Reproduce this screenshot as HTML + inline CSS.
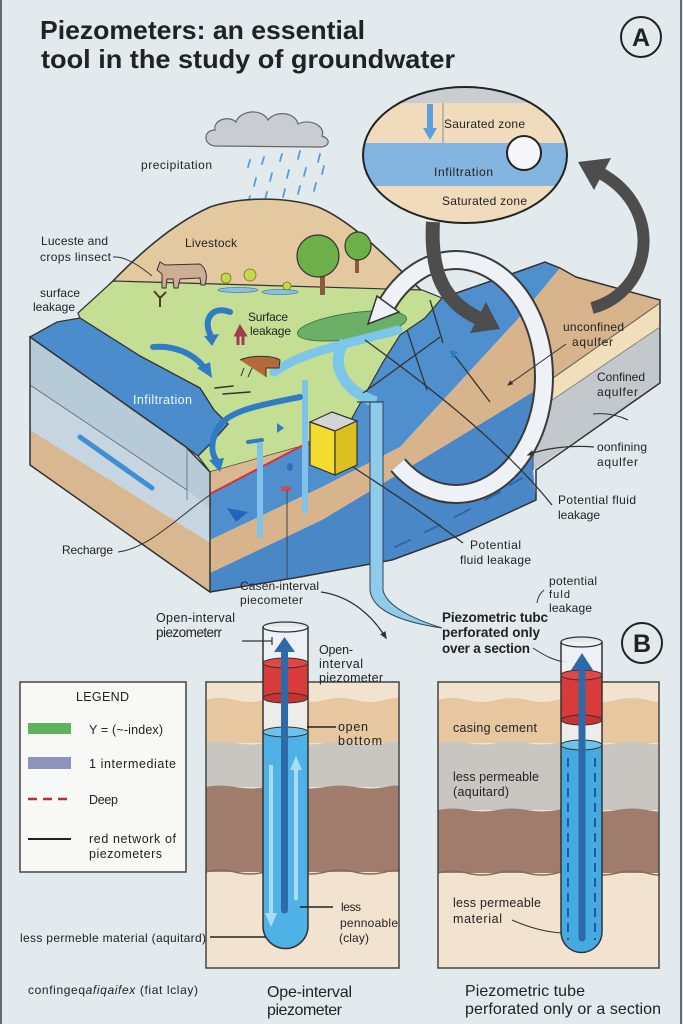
<!DOCTYPE html>
<html><head><meta charset="utf-8">
<style>
html,body{margin:0;padding:0;background:#e2eaed;}
svg{display:block;}
text{font-family:"Liberation Sans",sans-serif;fill:#222;}
</style></head><body>
<svg width="683" height="1024" viewBox="0 0 683 1024" xmlns="http://www.w3.org/2000/svg">
<defs>
<clipPath id="mag"><ellipse cx="465" cy="155" rx="102" ry="68"/></clipPath>
<marker id="ah" viewBox="0 0 10 10" refX="8" refY="5" markerWidth="6" markerHeight="6" orient="auto"><path d="M0,1 L10,5 L0,9 z" fill="#333"/></marker>
<marker id="ahb" viewBox="0 0 10 10" refX="8" refY="5" markerWidth="4" markerHeight="4" orient="auto"><path d="M0,0 L10,5 L0,10 z" fill="#2f7cc4"/></marker>
</defs>
<rect width="683" height="1024" fill="#e2eaed"/>
<line x1="1" y1="0" x2="1" y2="1024" stroke="#6a6a6a" stroke-width="2"/>
<line x1="681" y1="0" x2="681" y2="1024" stroke="#6a6a6a" stroke-width="2"/>

<!-- Title -->
<text x="40" y="39" font-size="26" font-weight="bold" textLength="325" lengthAdjust="spacingAndGlyphs">Piezometers: an essential</text>
<text x="41" y="68" font-size="26" font-weight="bold" textLength="414" lengthAdjust="spacingAndGlyphs">tool in the study of groundwater</text>
<circle cx="641" cy="37" r="20" fill="none" stroke="#222" stroke-width="2"/>
<text x="641" y="46" font-size="25" font-weight="bold" text-anchor="middle">A</text>

<!-- Cloud & rain -->
<path d="M215,146 C203,145 203,130 215,130 C213,120 228,115 236,122 C240,110 262,108 268,120 C276,110 295,112 298,124 C310,118 326,126 322,136 C333,140 328,148 318,147 Z" fill="#c9cdd2" stroke="#666" stroke-width="1.2"/>
<g stroke="#5a9bd5" stroke-width="1.8" stroke-linecap="round">
<line x1="250" y1="160" x2="248" y2="167"/><line x1="264" y1="157" x2="262" y2="164"/><line x1="282" y1="154" x2="280" y2="161"/><line x1="300" y1="151" x2="298" y2="159"/><line x1="320" y1="154" x2="318" y2="162"/>
<line x1="256" y1="178" x2="254" y2="186"/><line x1="272" y1="173" x2="270" y2="181"/><line x1="289" y1="170" x2="287" y2="178"/><line x1="306" y1="168" x2="304" y2="176"/><line x1="324" y1="166" x2="322" y2="174"/>
<line x1="250" y1="196" x2="248" y2="204"/><line x1="267" y1="192" x2="265" y2="200"/><line x1="285" y1="189" x2="283" y2="197"/><line x1="300" y1="186" x2="298" y2="194"/><line x1="316" y1="183" x2="314" y2="191"/>
<line x1="259" y1="212" x2="257" y2="220"/><line x1="277" y1="208" x2="275" y2="216"/><line x1="293" y1="205" x2="291" y2="213"/><line x1="247" y1="225" x2="245" y2="233"/><line x1="270" y1="225" x2="268" y2="233"/>
</g>
<text x="141" y="169" font-size="12" textLength="71">precipitation</text>

<!-- Hill -->
<path d="M110,284 C135,258 170,225 210,207 C240,197 285,196 318,207 C350,220 385,255 422,291 Z" fill="#e4c8a0" stroke="#333" stroke-width="1.6"/>

<!-- Right block layers -->
<path d="M210,494 L313,440 L340,440 L362,400 L383,362 L400,335 L425,318 L442,298 L517,272 L545,262 L560,268 L517,320 L400,447 L322,487 L210,540 Z" fill="#4f8fcd"/>
<path d="M210,540 L322,487 L400,447 L517,320 L560,268 L576,277 L660,300 L660,303 L533,392 L400,473 L322,520 L210,573 Z" fill="#d8b48d"/>
<polygon points="533,392 660,303 660,327 533,413" fill="#f1deba"/>
<polygon points="533,413 660,327 660,383 533,470" fill="#c3c8cc"/>
<path d="M210,573 L322,520 L400,473 L533,392 L533,470 L536,500 L460,535 L392,560 L300,577 L210,592 Z" fill="#4a87c6"/>
<path d="M442,298 L517,272 L545,262 L560,268 L576,277 L660,300 L660,383 L536,470 L536,500 L460,535 L392,560 L300,577 L210,592" fill="none" stroke="#333" stroke-width="1.5"/>
<line x1="533" y1="413" x2="533" y2="470" stroke="#555" stroke-width="1"/>
<line x1="533" y1="392" x2="660" y2="303" stroke="#555" stroke-width="1"/>
<line x1="533" y1="413" x2="660" y2="327" stroke="#777" stroke-width="0.8"/>
<g stroke="#2c67b0" stroke-width="2" stroke-linecap="round">
<line x1="395" y1="547" x2="410" y2="540"/><line x1="425" y1="532" x2="440" y2="525"/><line x1="455" y1="517" x2="470" y2="509"/><line x1="485" y1="500" x2="500" y2="492"/><line x1="510" y1="485" x2="522" y2="478"/>
</g>

<!-- Green plain -->
<path d="M78,313 L113,281 L422,290 L442,298 L425,318 L400,335 L383,362 L362,400 L340,440 L313,443 L210,472 L198,456 L212,442 L228,424 L214,410 L200,388 L140,356 L80,318 Z" fill="#c4df94" stroke="#333" stroke-width="1.2"/>
<!-- front tan wedge + red line -->
<polygon points="210,472 313,443 313,440 210,494" fill="#d9b790"/>
<line x1="210" y1="494" x2="313" y2="440" stroke="#d0343a" stroke-width="2"/>

<!-- Blue top-left region -->
<path d="M30,337 L57,322 L80,318 L140,356 L200,388 L214,410 L228,424 L212,442 L198,456 L186,447 Z" fill="#4b8ccc" stroke="#333" stroke-width="1.3"/>
<text x="133" y="404" font-size="12.5" fill="#eef6ff" style="fill:#eef6ff" textLength="59">Infiltration</text>

<!-- Left face -->
<polygon points="30,337 186,447 210,472 210,592 30,465" fill="#b7cad8"/>
<polygon points="30,385 187,490 210,508 210,543 30,430" fill="#c6d5e0"/>
<polygon points="30,430 210,543 210,592 30,465" fill="#d9b790"/>
<line x1="30" y1="385" x2="187" y2="490" stroke="#667" stroke-width="0.8"/>
<line x1="187" y1="447" x2="187" y2="500" stroke="#667" stroke-width="0.8"/>
<polygon points="30,337 186,447 210,472 210,592 30,465" fill="none" stroke="#333" stroke-width="1.5"/>
<line x1="80" y1="437" x2="152" y2="488" stroke="#3f8fd4" stroke-width="5" stroke-linecap="round"/>

<!-- Pond & river -->
<ellipse cx="352" cy="326" rx="55" ry="13" transform="rotate(-8 352 326)" fill="#6cb068" stroke="#3f7a45" stroke-width="1"/>
<path d="M398,330 C370,338 330,346 300,358 C288,363 280,368 274,372" fill="none" stroke="#7cc6ea" stroke-width="9" stroke-linecap="round"/>
<path d="M345,342 C330,360 340,390 376,402" fill="none" stroke="#7cc6ea" stroke-width="11"/>
<path d="M370,402 L370,590 C372,610 400,622 442,628 C410,618 386,605 383,590 L383,402 Z" fill="#8fcbeb" stroke="#345" stroke-width="1"/>
<line x1="357" y1="402" x2="383" y2="402" stroke="#345" stroke-width="1.2"/>

<!-- piezometer bars in block -->
<rect x="257" y="443" width="6" height="95" fill="#7fc3ea"/>
<rect x="302" y="380" width="6" height="133" fill="#7fc3ea"/>

<!-- Yellow box -->
<polygon points="310,422 332,412 357,421 335,431" fill="#d4d4d4" stroke="#333" stroke-width="1.2"/>
<polygon points="310,422 335,431 335,475 310,465" fill="#f3dc2f" stroke="#333" stroke-width="1.2"/>
<polygon points="335,431 357,421 357,465 335,475" fill="#dcc020" stroke="#333" stroke-width="1.2"/>

<!-- Blue arrows on green -->
<g fill="none" stroke="#2f7cc4" stroke-width="6" stroke-linecap="round">
<path d="M230,312 C212,305 202,320 211,336"/>
<path d="M153,347 C175,345 193,354 203,366"/>
<path d="M300,397 C260,405 232,410 220,425 C210,440 211,452 216,460"/>
<line x1="248" y1="442" x2="262" y2="440" stroke-width="4"/>
</g>
<polygon points="204,336 219,334 212,346" fill="#2f7cc4"/>
<polygon points="197,368 210,362 212,378" fill="#2f7cc4"/>
<polygon points="209,460 224,458 220,472" fill="#2f7cc4"/>
<polygon points="277,423 284,428 277,433" fill="#2f7cc4"/>
<ellipse cx="290" cy="467" rx="3" ry="4" fill="#2f6fbf"/>
<rect x="281" y="486" width="10" height="5" fill="#c0505a"/>
<polygon points="227,508 248,512 236,522" fill="#2266bb"/>
<g stroke="#333" stroke-width="1.5" stroke-linecap="round"><line x1="215" y1="388" x2="233" y2="386"/><line x1="223" y1="394" x2="250" y2="392"/></g>

<!-- Animals, trees, plants -->
<path d="M165,265 L200,264 C206,268 208,276 205,285 L201,285 L200,278 L180,279 L178,288 L174,288 L173,279 L167,279 L166,288 L162,288 L162,274 L157,270 L160,262 Z" fill="#cdae94" stroke="#333" stroke-width="1"/>
<path d="M240,360 C250,355 272,355 280,360 L279,368 L266,368 L266,377 M252,368 L248,377 M244,368 L241,376" fill="#b5693a" stroke="#333" stroke-width="1"/>
<rect x="320" y="266" width="5" height="29" fill="#8a5a3a"/>
<circle cx="318" cy="256" r="21" fill="#6db04a" stroke="#333" stroke-width="1.2"/>
<rect x="355" y="256" width="4" height="17" fill="#8a5a3a"/>
<ellipse cx="358" cy="246" rx="13" ry="14" fill="#6db04a" stroke="#333" stroke-width="1.2"/>
<ellipse cx="238" cy="290" rx="20" ry="2.5" fill="#8cc0e0" stroke="#4a7fb0" stroke-width="0.8"/>
<ellipse cx="280" cy="292" rx="18" ry="2.5" fill="#8cc0e0" stroke="#4a7fb0" stroke-width="0.8"/>
<g fill="#c9d64a" stroke="#6a7a2a" stroke-width="0.8"><circle cx="226" cy="278" r="5"/><circle cx="250" cy="275" r="6"/><circle cx="287" cy="286" r="4"/></g>
<path d="M160,307 L160,296 M160,298 L154,291 M160,298 L166,292" stroke="#5a3a2a" stroke-width="2" fill="none"/>
<path d="M236,335 L240,327 L245,335 Z M238,335 L238,345 M243,335 L243,345" fill="#9c3e4e" stroke="#9c3e4e" stroke-width="3"/>

<!-- thin dark lines in blue region -->
<g stroke="#333" stroke-width="1.3" fill="none">
<line x1="363" y1="393" x2="440" y2="337"/>
<line x1="407" y1="330" x2="427" y2="390"/>
<line x1="430" y1="300" x2="443" y2="343"/>
<line x1="490" y1="402" x2="455" y2="356"/>
</g>
<polygon points="450,350 458,352 452,359" fill="#2f7cc4"/>

<!-- White ring arrow -->
<path d="M386,306 A88,117 0 1 1 398,465" fill="none" stroke="#3a3a3a" stroke-width="20"/>
<path d="M386,306 A88,117 0 1 1 398,465" fill="none" stroke="#eef1f5" stroke-width="16"/>
<polygon points="377,296 399,312 368,324" fill="#eef1f5" stroke="#333" stroke-width="1.5"/>

<!-- Dark arrows -->
<path d="M433,222 C430,275 445,302 478,318" stroke="#4d4d4d" stroke-width="14" fill="none"/>
<polygon points="470,333 486,302 500,329" fill="#4d4d4d"/>
<path d="M592,308 C652,292 665,210 602,174" stroke="#4d4d4d" stroke-width="12" fill="none"/>
<polygon points="611,158 594,190 578,162" fill="#4d4d4d"/>

<!-- Magnifier -->
<g clip-path="url(#mag)">
<rect x="360" y="85" width="210" height="20" fill="#c9ccd0"/>
<rect x="360" y="103" width="210" height="40" fill="#f0dcbc"/>
<rect x="360" y="143" width="210" height="43" fill="#84b4e0"/>
<rect x="360" y="186" width="210" height="40" fill="#f0dcbc"/>
</g>
<line x1="430" y1="104" x2="430" y2="130" stroke="#5ba0dc" stroke-width="6"/>
<polygon points="423,128 437,128 430,140" fill="#5ba0dc"/>
<line x1="443" y1="103" x2="443" y2="143" stroke="#777" stroke-width="0.8"/>
<circle cx="524" cy="153" r="17" fill="#f4f6f8" stroke="#222" stroke-width="2"/>
<ellipse cx="465" cy="155" rx="102" ry="68" fill="none" stroke="#222" stroke-width="2"/>
<text x="444" y="128" font-size="12" textLength="81">Saurated zone</text>
<text x="434" y="176" font-size="12" textLength="59">Infiltration</text>
<text x="442" y="205" font-size="12" textLength="85">Saturated zone</text>

<!-- Labels top section -->
<text x="41" y="245" font-size="12" textLength="67">Luceste and</text>
<text x="40" y="261" font-size="12" textLength="71">crops linsect</text>
<path d="M113,257 C125,256 140,266 152,276" fill="none" stroke="#333" stroke-width="1"/>
<text x="185" y="247" font-size="12" textLength="52">Livestock</text>
<text x="40" y="297" font-size="12" textLength="40">surface</text>
<text x="33" y="311" font-size="12" textLength="42">leakage</text>
<text x="248" y="321" font-size="12" textLength="40">Surface</text>
<text x="250" y="335" font-size="12" textLength="41">leakage</text>

<text x="563" y="331" font-size="12" textLength="61">unconfined</text>
<text x="572" y="346" font-size="12" textLength="41">aqulfer</text>
<line x1="566" y1="344" x2="508" y2="385" stroke="#333" stroke-width="1" marker-end="url(#ah)"/>
<text x="597" y="381" font-size="12" textLength="48">Confined</text>
<text x="597" y="396" font-size="12" textLength="41">aqulfer</text>
<path d="M593,414 Q612,412 628,420" fill="none" stroke="#333" stroke-width="1"/>
<text x="597" y="451" font-size="12" textLength="50">oonfining</text>
<text x="597" y="466" font-size="12" textLength="41">aqulfer</text>
<path d="M594,447 C570,445 545,448 528,455" fill="none" stroke="#333" stroke-width="1.2" marker-end="url(#ah)"/>
<text x="558" y="504" font-size="12" textLength="78">Potential fluid</text>
<text x="558" y="519" font-size="12" textLength="42">leakage</text>
<path d="M552,505 C500,440 420,380 365,340" fill="none" stroke="#333" stroke-width="1.3"/>
<text x="470" y="549" font-size="12" textLength="51">Potential</text>
<text x="460" y="564" font-size="12" textLength="71">fluid leakage</text>
<path d="M463,543 C420,510 380,485 353,467" fill="none" stroke="#333" stroke-width="1.3"/>
<text x="62" y="554" font-size="12" textLength="51">Recharge</text>
<path d="M118,552 C150,548 180,515 210,495" fill="none" stroke="#333" stroke-width="1"/>
<text x="240" y="590" font-size="12" textLength="79">Casen-interval</text>
<text x="240" y="604" font-size="12" textLength="63">piecometer</text>
<line x1="287" y1="490" x2="287" y2="580" stroke="#444" stroke-width="1"/>
<path d="M321,592 C350,596 372,615 386,638" fill="none" stroke="#333" stroke-width="1.3" marker-end="url(#ah)"/>
<text x="549" y="585" font-size="12" textLength="48">potential</text>
<text x="549" y="598" font-size="11" textLength="21">fuld</text>
<text x="549" y="612" font-size="12" textLength="43">leakage</text>
<path d="M544,590 Q538,595 537,603" fill="none" stroke="#333" stroke-width="1"/>
<text x="442" y="622" font-size="13.5" font-weight="bold" textLength="106">Piezometric tubc</text>
<text x="442" y="637" font-size="13.5" font-weight="bold" textLength="98">perforated only</text>
<text x="442" y="653" font-size="13.5" font-weight="bold" textLength="88">over a section</text>
<path d="M533,648 C545,656 555,661 566,662" fill="none" stroke="#333" stroke-width="1"/>
<circle cx="642" cy="643" r="20" fill="none" stroke="#222" stroke-width="2"/>
<text x="642" y="652" font-size="25" font-weight="bold" text-anchor="middle">B</text>

<!-- Legend -->
<rect x="20" y="682" width="166" height="190" fill="#f8f8f6" stroke="#444" stroke-width="1.5"/>
<text x="76" y="701" font-size="12.5" textLength="53">LEGEND</text>
<rect x="28" y="723" width="43" height="11" fill="#5fb35f"/>
<text x="89" y="734" font-size="12.5" textLength="74">Y = (~-index)</text>
<rect x="28" y="757" width="43" height="12" fill="#8e93bd"/>
<text x="89" y="768" font-size="12.5" textLength="87">1  intermediate</text>
<line x1="28" y1="799" x2="71" y2="799" stroke="#b3303a" stroke-width="2.5" stroke-dasharray="9,6"/>
<text x="89" y="804" font-size="12.5" textLength="29">Deep</text>
<line x1="28" y1="839" x2="71" y2="839" stroke="#222" stroke-width="2"/>
<text x="89" y="843" font-size="12.5" textLength="87">red network of</text>
<text x="89" y="858" font-size="12.5" textLength="73">piezometers</text>

<!-- Left soil box -->
<rect x="206" y="682" width="193" height="286" fill="#f2e3d0"/>
<path d="M206,700 Q220,696 235,700 T265,700 T295,700 T325,700 T355,700 T385,700 T399,700 L399,743 L206,743 Z" fill="#e6c7a0"/>
<path d="M206,743 Q220,740 235,743 T265,743 T295,743 T325,743 T355,743 T385,743 T399,743 L399,787 L206,787 Z" fill="#c9c6c2"/>
<path d="M206,787 Q220,784 235,787 T265,787 T295,787 T325,787 T355,787 T385,787 T399,787 L399,872 L206,872 Z" fill="#9f7c6c"/>
<path d="M206,872 Q220,868 235,872 T265,872 T295,872 T325,872 T355,872 T385,872 T399,872" fill="none" stroke="#8a6a5a" stroke-width="1.5"/>
<rect x="206" y="682" width="193" height="286" fill="none" stroke="#444" stroke-width="1.5"/>

<!-- Right soil box -->
<rect x="438" y="682" width="221" height="286" fill="#f2e3d0"/>
<path d="M438,700 Q452,696 467,700 T497,700 T527,700 T557,700 T587,700 T617,700 T647,700 T659,700 L659,743 L438,743 Z" fill="#e6c7a0"/>
<path d="M438,743 Q452,740 467,743 T497,743 T527,743 T557,743 T587,743 T617,743 T647,743 T659,743 L659,810 L438,810 Z" fill="#c9c6c2"/>
<path d="M438,810 Q452,807 467,810 T497,810 T527,810 T557,810 T587,810 T617,810 T647,810 T659,810 L659,873 L438,873 Z" fill="#9f7c6c"/>
<path d="M438,873 Q452,869 467,873 T497,873 T527,873 T557,873 T587,873 T617,873 T647,873 T659,873" fill="none" stroke="#8a6a5a" stroke-width="1.5"/>
<rect x="438" y="682" width="221" height="286" fill="none" stroke="#444" stroke-width="1.5"/>

<!-- Left tube -->
<path d="M263,627 L263,926 A22.5,22.5 0 0 0 308,926 L308,627 Z" fill="#eef2f6" fill-opacity="0.85"/>
<path d="M263,732 L263,926 A22.5,22.5 0 0 0 308,926 L308,732 Z" fill="#4fb2e6"/>
<ellipse cx="285.5" cy="732" rx="22.5" ry="5" fill="#6cc3ee" stroke="#333" stroke-width="1"/>
<rect x="263" y="663" width="45" height="35" fill="#d93a3a"/>
<ellipse cx="285.5" cy="698" rx="22.5" ry="5" fill="#c83232" stroke="#333" stroke-width="1"/>
<ellipse cx="285.5" cy="663" rx="22.5" ry="5" fill="#e04848" stroke="#333" stroke-width="1"/>
<line x1="296" y1="900" x2="296" y2="768" stroke="#a7dcf3" stroke-width="4"/>
<polygon points="290,770 302,770 296,756" fill="#a7dcf3"/>
<line x1="271" y1="765" x2="271" y2="915" stroke="#a7dcf3" stroke-width="4"/>
<polygon points="265,913 277,913 271,927" fill="#a7dcf3"/>
<line x1="284.5" y1="650" x2="284.5" y2="910" stroke="#2f6aa8" stroke-width="7" stroke-linecap="round"/>
<polygon points="274,652 295,652 284.5,637" fill="#2f6aa8"/>
<path d="M263,627 L263,926 A22.5,22.5 0 0 0 308,926 L308,627" fill="none" stroke="#333" stroke-width="1.5"/>
<ellipse cx="285.5" cy="627" rx="22.5" ry="5" fill="none" stroke="#333" stroke-width="1.3"/>

<!-- Right tube -->
<path d="M561,642 L561,932 A20.5,20.5 0 0 0 602,932 L602,642 Z" fill="#eef2f6" fill-opacity="0.85"/>
<path d="M561,745 L561,932 A20.5,20.5 0 0 0 602,932 L602,745 Z" fill="#45a9e2"/>
<ellipse cx="581.5" cy="745" rx="20.5" ry="5" fill="#6cc3ee" stroke="#333" stroke-width="1"/>
<rect x="561" y="675" width="41" height="45" fill="#d93a3a"/>
<ellipse cx="581.5" cy="720" rx="20.5" ry="5" fill="#c83232" stroke="#333" stroke-width="1"/>
<ellipse cx="581.5" cy="675" rx="20.5" ry="5" fill="#e04848" stroke="#333" stroke-width="1"/>
<line x1="568" y1="758" x2="568" y2="940" stroke="#1f5a9a" stroke-width="2" stroke-dasharray="9,6"/>
<line x1="595" y1="758" x2="595" y2="940" stroke="#1f5a9a" stroke-width="2" stroke-dasharray="9,6"/>
<line x1="582" y1="668" x2="582" y2="938" stroke="#2f6aa8" stroke-width="7" stroke-linecap="round"/>
<polygon points="571,670 593,670 582,653" fill="#2f6aa8"/>
<path d="M561,642 L561,932 A20.5,20.5 0 0 0 602,932 L602,642" fill="none" stroke="#333" stroke-width="1.5"/>
<ellipse cx="581.5" cy="642" rx="20.5" ry="5" fill="none" stroke="#333" stroke-width="1.3"/>

<!-- Bottom labels -->
<text x="156" y="622" font-size="12.5" textLength="79">Open-interval</text>
<text x="156" y="637" font-size="13.5" textLength="66">piezometerr</text>
<line x1="242" y1="641" x2="272" y2="641" stroke="#333" stroke-width="1.2"/>
<line x1="272" y1="637" x2="272" y2="645" stroke="#333" stroke-width="1.2"/>
<text x="319" y="654" font-size="12.5" textLength="34">Open-</text>
<text x="319" y="668" font-size="12.5" textLength="44">interval</text>
<text x="319" y="682" font-size="12.5" textLength="64">piezometer</text>
<text x="338" y="731" font-size="12.5" textLength="30">open</text>
<text x="338" y="745" font-size="12.5" textLength="44">bottom</text>
<line x1="307" y1="727" x2="336" y2="727" stroke="#222" stroke-width="1.5"/>
<text x="341" y="911" font-size="12" textLength="20">less</text>
<text x="340" y="927" font-size="12" textLength="58">pennoable</text>
<text x="339" y="942" font-size="12" textLength="30">(clay)</text>
<line x1="300" y1="907" x2="333" y2="907" stroke="#222" stroke-width="1.5"/>
<text x="20" y="942" font-size="12" textLength="186">less permeble material (aquitard)</text>
<line x1="210" y1="937" x2="266" y2="937" stroke="#222" stroke-width="1.5"/>
<text x="453" y="732" font-size="12.5" textLength="84">casing cement</text>
<text x="453" y="781" font-size="12.5" textLength="86">less permeable</text>
<text x="453" y="796" font-size="12.5" textLength="56">(aquitard)</text>
<text x="453" y="907" font-size="12.5" textLength="88">less permeable</text>
<text x="453" y="923" font-size="12.5" textLength="49">material</text>
<path d="M512,920 C530,928 545,932 562,933" fill="none" stroke="#333" stroke-width="1"/>
<text x="28" y="994" font-size="12" textLength="170">confingeq<tspan font-style="italic">afiqaifex</tspan> (fiat lclay)</text>
<text x="267" y="997" font-size="16" textLength="85">Ope-interval</text>
<text x="267" y="1015" font-size="16" textLength="75">piezometer</text>
<text x="465" y="996" font-size="16" textLength="120">Piezometric tube</text>
<text x="465" y="1014" font-size="16" textLength="196">perforated only or a section</text>
</svg>
</body></html>
